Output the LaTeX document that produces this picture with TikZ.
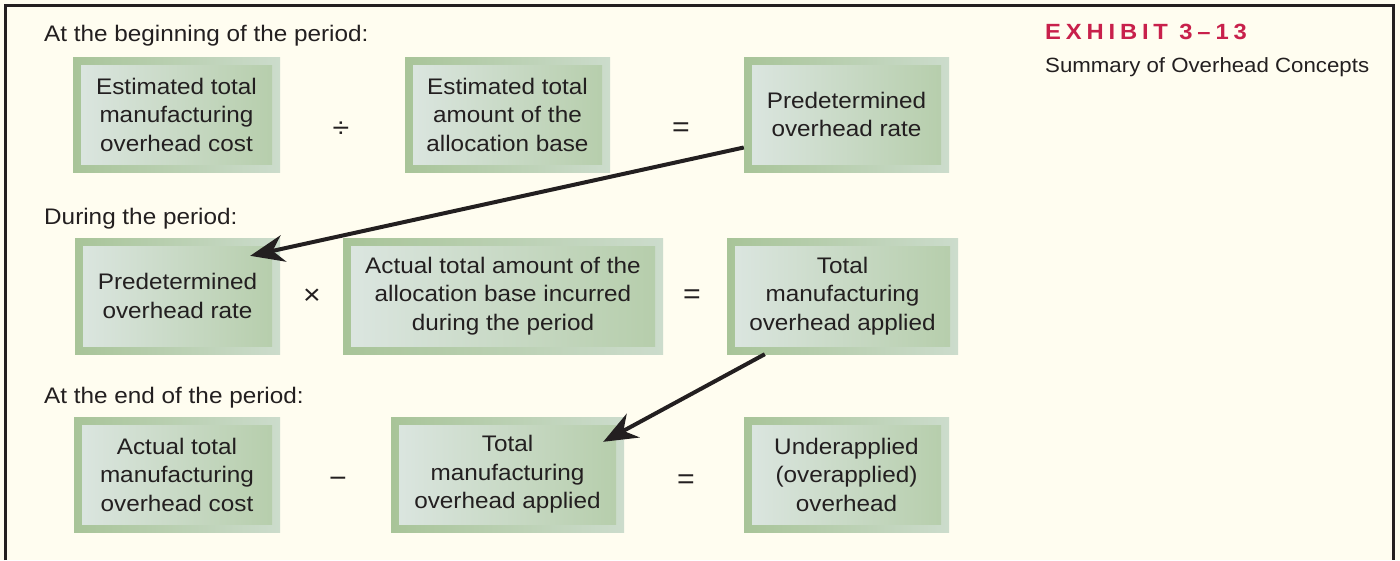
\documentclass[tikz,border=0pt]{standalone}
\usepackage{fontspec}
\setmainfont{Liberation Sans}[FakeStretch=1.08]
\usetikzlibrary{arrows.meta}

\definecolor{paper}{HTML}{FFFDF0}
\definecolor{ink}{HTML}{231F20}
\definecolor{exred}{HTML}{C8204B}
\definecolor{frameL}{HTML}{A8C498}
\definecolor{frameR}{HTML}{CCDCCC}
\definecolor{innerL}{HTML}{DCE6E1}
\definecolor{innerR}{HTML}{B5CDAA}

\begin{document}
\begin{tikzpicture}[x=1pt, y=-1pt,
  conceptbox/.style={rectangle, inner sep=0pt, minimum height=115pt, align=center,
    text=ink, font=\fontsize{22.5}{28.5}\selectfont,
    left color=frameL, right color=frameR,
    path picture={\shade[left color=innerL, right color=innerR]
      ([shift={(8pt,-8pt)}]path picture bounding box.north west) rectangle
      ([shift={(-8pt,8pt)}]path picture bounding box.south east);}},
  period/.style={anchor=base west, inner sep=0pt, text=ink, font=\fontsize{22.5}{26}\selectfont},
  op/.style={text=ink, font=\fontsize{28}{30}\selectfont},
  bigarrow/.style={-{Stealth[length=34pt,width=27pt]}, line width=4pt, draw=ink}]
\useasboundingbox (0,0) rectangle (1400,560);
\fill[paper] (0,0) rectangle (1400,560);
\draw[line width=3pt, ink] (5,560) -- (5,5) -- (1393,5) -- (1393,560);

% title
\node[anchor=base west, inner sep=0pt, text=exred,
  font=\bfseries\fontsize{22}{22}\selectfont\addfontfeatures{LetterSpace=22}] (exhibit) at (1045,39) {EXHIBIT 3–13};
\node[anchor=base west, inner sep=0pt, text=ink, font=\fontsize{20.6}{21}\selectfont] (subtitle) at (1045,72) {Summary of Overhead Concepts};

% beginning of the period
\node[period] (lblbegin) at (44,41) {At the beginning of the period:};
\node[conceptbox, minimum width=207pt] (estcost) at (176.5,114.5) {Estimated total\\manufacturing\\overhead cost};
\node[op] (div) at (341,130) {÷};
\node[conceptbox, minimum width=205pt] (estbase) at (507.5,114.5) {Estimated total\\amount of the\\allocation base};
\node[op] (eqa) at (681,130) {=};
\node[conceptbox, minimum width=205pt] (rate) at (846.5,114.5) {Predetermined\\overhead rate};

% during the period
\node[period] (lblduring) at (44,224) {During the period:};
\node[conceptbox, minimum width=205pt, minimum height=116pt] (ratetwo) at (177.5,296) {Predetermined\\overhead rate};
\node[op] (times) at (312,297) {×};
\node[conceptbox, minimum width=320pt, minimum height=116pt] (actbase) at (503,296) {Actual total amount of the\\allocation base incurred\\during the period};
\node[op] (eqb) at (692,297) {=};
\node[conceptbox, minimum width=231pt, minimum height=116pt] (applied) at (842.5,296) {Total\\manufacturing\\overhead applied};

% end of the period
\node[period] (lblend) at (44,403) {At the end of the period:};
\node[conceptbox, minimum width=206pt] (actcost) at (177,474.5) {Actual total\\manufacturing\\overhead cost};
\node[op] (minus) at (338,482) {−};
\node[conceptbox, minimum width=233pt] (appliedtwo) at (507.5,474.5) {Total\\manufacturing\\overhead applied};
\node[op] (eqc) at (686,482) {=};
\node[conceptbox, minimum width=205pt] (underover) at (846.5,474.5) {Underapplied\\(overapplied)\\overhead};

% arrows
\draw[bigarrow] ([yshift=-33pt]rate.west) -- ([xshift=-30pt,yshift=-18pt]ratetwo.north east);
\draw[bigarrow] ([xshift=38pt]applied.south west) -- ([xshift=-21pt,yshift=-25pt]appliedtwo.north east);
\end{tikzpicture}
\end{document}
